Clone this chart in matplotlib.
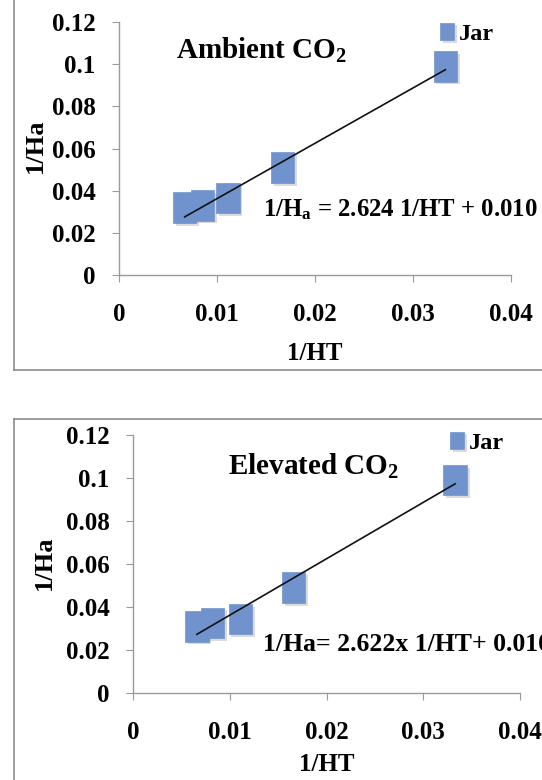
import matplotlib
matplotlib.use("Agg")
import matplotlib.pyplot as plt
import matplotlib.patheffects as pe
from matplotlib.lines import Line2D

plt.rcParams['font.family'] = ['Liberation Serif', 'DejaVu Serif']
plt.rcParams['font.weight'] = 'bold'
plt.rcParams['mathtext.fontset'] = 'custom'
plt.rcParams['mathtext.rm'] = 'Liberation Serif:bold'
plt.rcParams['mathtext.bf'] = 'Liberation Serif:bold'
plt.rcParams['mathtext.it'] = 'Liberation Serif:italic:bold'

# data
ambient_ht = [0.0067, 0.0085, 0.0111, 0.0167, 0.0333]
ambient_ha = [0.032, 0.033, 0.0365, 0.051, 0.099]
elevated_ht = [0.0066, 0.0082, 0.0111, 0.0166, 0.0333]
elevated_ha = [0.031, 0.0326, 0.0344, 0.049, 0.099]

# fitted lines (slope, intercept)
ambient_fit = (2.624, 0.010)
elevated_fit = (2.622, 0.010)

x_ticks = [0, 0.01, 0.02, 0.03, 0.04]
x_labels = ['0', '0.01', '0.02', '0.03', '0.04']
y_ticks = [0, 0.02, 0.04, 0.06, 0.08, 0.1, 0.12]
y_labels = ['0', '0.02', '0.04', '0.06', '0.08', '0.1', '0.12']

MARKER = '#7093CD'
SPINE = '#9a9a9a'
# slightly tall square, like the stretched excel markers
TALL_SQ = [(-0.5, -0.65), (0.5, -0.65), (0.5, 0.65), (-0.5, 0.65), (-0.5, -0.65)]

fig = plt.figure(figsize=(5.42, 7.8), dpi=100)

panels = [
    dict(rect=[0.2196, 0.6474, 0.7232, 0.3244], x=ambient_ht, y=ambient_ha, fit=ambient_fit,
         title='Ambient CO$_2$', title_xy=(0.0145, 0.1065),
         eq='1/H$_\\mathrm{a}$ = 2.624 1/HT + 0.010', eq_xy=(0.0147, 0.031), eq_fs=17.8,
         leg=(0.815, 0.953), xlab=(0.5, -0.265), ylab=(-0.183, 0.51)),
    dict(rect=[0.2454, 0.1115, 0.714, 0.3308], x=elevated_ht, y=elevated_ha, fit=elevated_fit,
         title='Elevated CO$_2$', title_xy=(0.0187, 0.1055),
         eq='1/Ha= 2.622x 1/HT+ 0.010', eq_xy=(0.01344, 0.0228), eq_fs=18.5,
         leg=(0.815, 0.969), xlab=(0.5, -0.233), ylab=(-0.199, 0.504)),
]

for p in panels:
    ax = fig.add_axes(p['rect'])
    shadow = [pe.SimplePatchShadow(offset=(2, -2), shadow_rgbFace='#8a8a8a', alpha=0.3), pe.Normal()]
    ax.plot(p['x'], p['y'], linestyle='none', marker=TALL_SQ, ms=22,
            mfc=MARKER, mec=MARKER, mew=0.5, label='Jar', path_effects=shadow, zorder=2)
    slope, icpt = p['fit']
    xs = [p['x'][0], p['x'][-1]]
    ax.plot(xs, [slope * x + icpt for x in xs], color='#111111', lw=1.2, zorder=3)

    ax.set_xlim(0, 0.04)
    ax.set_ylim(0, 0.12)
    ax.set_xticks(x_ticks)
    ax.set_xticklabels(x_labels)
    ax.set_yticks(y_ticks)
    ax.set_yticklabels(y_labels)
    ax.tick_params(axis='x', direction='out', length=5, color=SPINE, pad=15, labelsize=18)
    ax.tick_params(axis='y', direction='out', length=5, color=SPINE, pad=12, labelsize=18)
    for s in ['top', 'right']:
        ax.spines[s].set_visible(False)
    for s in ['left', 'bottom']:
        ax.spines[s].set_color(SPINE)
        ax.spines[s].set_linewidth(1.0)

    ax.set_xlabel('1/HT', fontsize=18, fontweight='bold')
    ax.xaxis.set_label_coords(*p['xlab'])
    ax.set_ylabel('1/Ha', fontsize=19, fontweight='bold')
    ax.yaxis.set_label_coords(*p['ylab'])

    ax.text(p['title_xy'][0], p['title_xy'][1], p['title'], fontsize=21,
            fontweight='bold', ha='center', va='center')
    ax.text(p['eq_xy'][0], p['eq_xy'][1], p['eq'], fontsize=p['eq_fs'],
            fontweight='bold', ha='left', va='center', clip_on=False)

    leg = ax.legend(loc='center left', bbox_to_anchor=p['leg'], frameon=False,
                    fontsize=17.5, handletextpad=0.15, handlelength=0.7,
                    markerscale=0.58, borderaxespad=0, borderpad=0)
    for t in leg.get_texts():
        t.set_fontweight('bold')

# picture borders
BORDER = '#8c8c8c'
fig.add_artist(Line2D([0.026, 0.026], [1.0, 0.526], color=BORDER, lw=1.2))
fig.add_artist(Line2D([0.026, 1.0], [0.526, 0.526], color=BORDER, lw=1.2))
fig.add_artist(Line2D([0.026, 0.026], [0.463, 0.0], color=BORDER, lw=1.2))
fig.add_artist(Line2D([0.026, 1.0], [0.463, 0.463], color=BORDER, lw=1.2))

fig.savefig('out.png', dpi=100)
